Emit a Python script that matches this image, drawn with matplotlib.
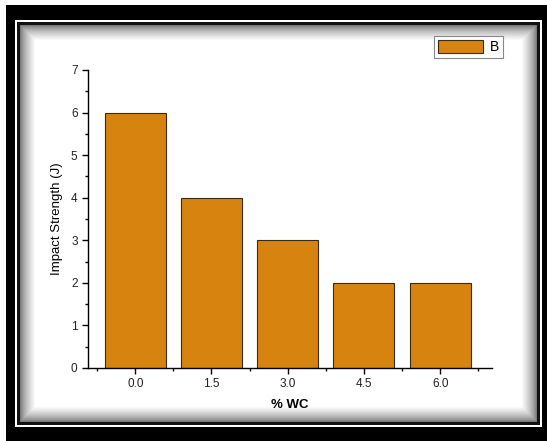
import matplotlib
matplotlib.use("Agg")
import matplotlib.pyplot as plt
import numpy as np
from matplotlib.patches import Rectangle

# data
wc_labels = ['0.0', '1.5', '3.0', '4.5', '6.0']
impact_strength = [6, 4, 3, 2, 2]
series_name = 'B'

plt.rcParams['font.family'] = ['Liberation Sans', 'DejaVu Sans']

W, H = 547, 441
fig = plt.figure(figsize=(W / 100, H / 100), dpi=100)


def px_rect(x0, y0, x1, y1, color, z):
    # rectangle given in pixel coordinates from the top-left corner
    r = Rectangle((x0 / W, 1 - y1 / H), (x1 - x0) / W, (y1 - y0) / H,
                  transform=fig.transFigure, facecolor=color,
                  edgecolor='none', zorder=z)
    fig.add_artist(r)


# picture frame: thick black border, white line, dark inner line with shading
px_rect(6, 5, 547, 441, 'black', -10)
px_rect(15, 20, 542, 427, 'white', -9)
px_rect(17, 22, 540, 425, '#111111', -8)
steps = 16
for i in range(steps):
    t = (i + 1) / steps
    g = 0.35 + 0.65 * t ** 0.6
    d = 3 + i
    px_rect(17 + d, 22 + d, 540 - d, 425 - d, (g, g, g), -7 + i * 0.01)

# axes
ax = fig.add_axes([88 / W, 1 - 368 / H, (492 - 88) / W, (368 - 70) / H])
ax.set_facecolor('none')
x = np.arange(len(wc_labels))
ax.bar(x, impact_strength, width=0.8, color='#D6840F', edgecolor='#3a2a10',
       linewidth=0.8, label=series_name)

ax.set_xlim(-0.62, 4.68)
ax.set_ylim(0, 7)
ax.set_xticks(x)
ax.set_xticklabels(wc_labels)
ax.set_xticks(np.arange(-0.5, 5, 1), minor=True)
ax.set_yticks(range(0, 8))
ax.set_yticks(np.arange(0.5, 7, 1), minor=True)

for s in ['top', 'right']:
    ax.spines[s].set_visible(False)
for s in ['left', 'bottom']:
    ax.spines[s].set_linewidth(1.0)

ax.tick_params(which='major', direction='out', length=4, width=1,
               labelsize=8.5, colors='black', labelcolor='#222222')
ax.tick_params(which='minor', direction='out', length=2.5, width=1)

ax.set_xlabel('% WC', fontsize=9.5, fontweight='bold', labelpad=6)
ax.set_ylabel('Impact Strength (J)', fontsize=9.5, labelpad=6)

leg = ax.legend(loc='upper right', bbox_to_anchor=(503 / W, 1 - 36 / H),
                bbox_transform=fig.transFigure, fontsize=10,
                handlelength=3.2, handleheight=1.0, handletextpad=0.5,
                borderpad=0.3, borderaxespad=0, fancybox=False,
                framealpha=1)
leg.get_frame().set_edgecolor('#888888')
leg.get_frame().set_linewidth(0.8)

fig.savefig('out.png', dpi=100, facecolor='white')
